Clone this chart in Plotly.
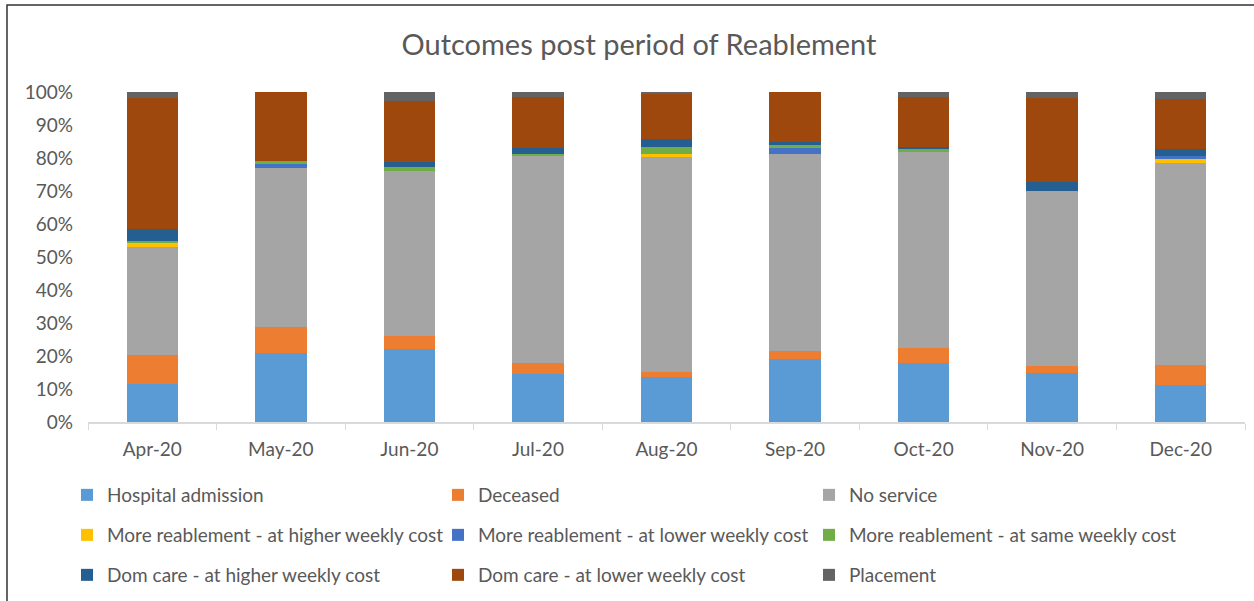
import plotly.graph_objects as go

months = ["Apr-20", "May-20", "Jun-20", "Jul-20", "Aug-20", "Sep-20", "Oct-20", "Nov-20", "Dec-20"]

hospital_admission = [11.5, 20.8, 22.0, 14.5, 13.5, 19.0, 17.9, 14.8, 11.1]
deceased = [8.8, 7.9, 4.1, 3.4, 1.7, 2.6, 4.4, 2.1, 6.2]
no_service = [32.8, 48.2, 50.0, 62.7, 65.1, 59.6, 59.5, 53.2, 61.3]
more_reab_higher = [1.0, 0.0, 0.0, 0.0, 0.9, 0.0, 0.0, 0.0, 1.0]
more_reab_lower = [0.0, 1.3, 0.0, 0.0, 0.0, 1.8, 0.0, 0.0, 1.1]
more_reab_same = [0.7, 1.0, 1.1, 0.7, 2.1, 1.0, 0.8, 0.0, 0.0]
dom_care_higher = [3.8, 0.0, 1.6, 1.6, 2.5, 0.8, 0.8, 2.6, 2.0]
dom_care_lower = [39.6, 20.8, 18.5, 15.7, 13.5, 15.2, 15.2, 25.5, 15.2]
placement = [1.8, 0.0, 2.7, 1.4, 0.7, 0.0, 1.4, 1.8, 2.1]

series = [
    ("Hospital admission", hospital_admission, "#5B9BD5", "legend"),
    ("Deceased", deceased, "#ED7D31", "legend"),
    ("No service", no_service, "#A5A5A5", "legend"),
    ("More reablement - at higher weekly cost", more_reab_higher, "#FFC000", "legend2"),
    ("More reablement - at lower weekly cost", more_reab_lower, "#4472C4", "legend2"),
    ("More reablement - at same weekly cost", more_reab_same, "#70AD47", "legend2"),
    ("Dom care - at higher weekly cost", dom_care_higher, "#255E91", "legend3"),
    ("Dom care - at lower weekly cost", dom_care_lower, "#9E480E", "legend3"),
    ("Placement", placement, "#636363", "legend3"),
]

fig = go.Figure()
for name, vals, color, lg in series:
    fig.add_trace(go.Bar(
        x=months, y=[v / 100 for v in vals], name=name,
        marker=dict(color=color, line=dict(width=0)),
        legend=lg,
    ))

FONT = "Lato, 'Open Sans', sans-serif"
TXT = "#595959"

legend_common = dict(
    orientation="h", xref="container", yref="container",
    xanchor="left", yanchor="middle",
    entrywidth=326, entrywidthmode="pixels",
    font=dict(family=FONT, size=19, color=TXT),
    bgcolor="rgba(0,0,0,0)", traceorder="normal",
)

fig.update_layout(
    width=1254, height=601,
    barmode="stack", bargap=0.6,
    paper_bgcolor="white", plot_bgcolor="white",
    margin=dict(l=88, r=9, t=92, b=179),
    title=dict(text="Outcomes post period of Reablement", x=639 / 1254, xanchor="center",
               xref="container", y=1 - 45 / 601, yref="container", yanchor="middle",
               font=dict(family=FONT, size=29, color=TXT)),
    font=dict(family=FONT, color=TXT),
    legend=dict(legend_common, x=67 / 1254, y=1 - 495 / 601),
    legend2=dict(legend_common, x=67 / 1254, y=1 - 535 / 601),
    legend3=dict(legend_common, x=67 / 1254, y=1 - 575 / 601),
    xaxis=dict(showline=True, linecolor="#D9D9D9", linewidth=1.5,
               ticks="outside", tickson="boundaries", ticklen=6, tickcolor="#D9D9D9",
               ticklabelstandoff=9,
               tickfont=dict(family=FONT, size=19, color=TXT), showgrid=False),
    yaxis=dict(range=[0, 1.0], tickformat=".0%", dtick=0.1, showgrid=False,
               showline=False, zeroline=False, ticks="", ticklabelstandoff=14,
               tickfont=dict(family=FONT, size=19, color=TXT)),
    shapes=[dict(type="rect", xref="paper", yref="paper",
                 x0=(7 - 88) / 1157, x1=(1260 - 88) / 1157,
                 y0=(422 - 610) / 330, y1=(422 - 5) / 330,
                 line=dict(color="#333333", width=1.5), layer="below")],
)

fig.write_html("out.html", config={"displayModeBar": False},
               post_script="document.body.style.margin='0';")
